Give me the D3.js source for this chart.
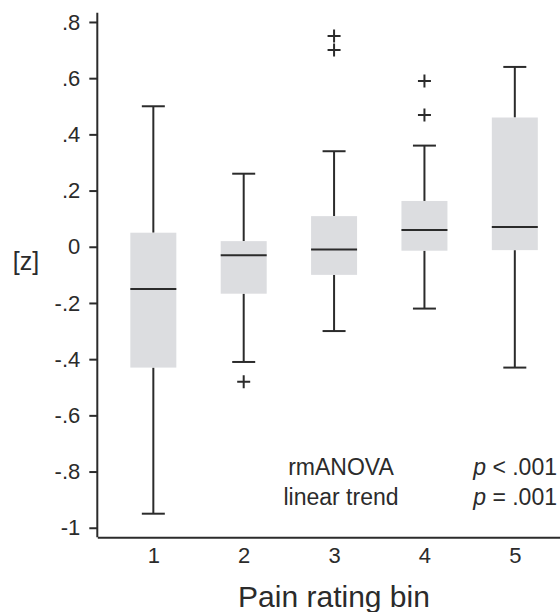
<!DOCTYPE html>
<html>
<head>
<meta charset="utf-8">
<script src="https://cdn.jsdelivr.net/npm/d3@7"></script>
<style>
    body { margin: 0; background: #fff; }
    svg { display: block; font-family: "Liberation Sans", Arial, sans-serif; }
</style>
</head>
<body>
<svg id="chart"></svg>
<script>
// values, one entry per pain rating bin
const bins = [1, 2, 3, 4, 5];
const whiskerLow = [-0.95, -0.41, -0.30, -0.22, -0.43];
const q1 = [-0.43, -0.167, -0.10, -0.014, -0.012];
const median = [-0.15, -0.03, -0.01, 0.06, 0.07];
const q3 = [0.05, 0.02, 0.109, 0.163, 0.46];
const whiskerHigh = [0.50, 0.26, 0.34, 0.36, 0.64];
const outliers = [[], [-0.48], [0.70, 0.75], [0.469, 0.59], []];
const yTicks = [0.8, 0.6, 0.4, 0.2, 0, -0.2, -0.4, -0.6, -0.8, -1];
const stats = [
    { label: "rmANOVA", op: "<", p: ".001" },
    { label: "linear trend", op: "=", p: ".001" }
];

const width = 560, height = 612;
const ink = "#2b2b2b";
const boxFill = "#dcdde0";

const svg = d3.select("#chart")
        .attr("width", width)
        .attr("height", height);

const x = d3.scaleLinear().domain([0.38, 5.5]).range([97.3, 560]);
const y = d3.scaleLinear().domain([-1.034, 0.833]).range([537.3, 12.7]);

const boxW = 46;
const capW = 23;

// tick text as in the figure: ".8", "0", "-.2", "-1"
function tickText(d) {
    if (d === 0) return "0";
    if (Number.isInteger(d)) return String(d);
    return d.toFixed(1).replace("0.", ".");
}

let data = bins.map((b, i) => ({
    bin: b,
    lo: whiskerLow[i],
    q1: q1[i],
    med: median[i],
    q3: q3[i],
    hi: whiskerHigh[i],
    out: outliers[i]
}));

// y axis
let yAxis = svg.append("g")
        .attr("transform", `translate(${x(0.38)},0)`)
        .call(d3.axisLeft(y)
                .tickValues(yTicks)
                .tickSize(8)
                .tickPadding(9)
                .tickFormat(tickText));
yAxis.select(".domain").attr("d", `M0,${y.range()[0]}V${y.range()[1]}`);
yAxis.selectAll("path, line").attr("stroke", ink).attr("stroke-width", 2);
yAxis.selectAll("text").attr("font-size", 22).attr("fill", ink).attr("font-family", null);

// x axis, no tick marks
let xAxis = svg.append("g")
        .attr("transform", `translate(0,${y.range()[0]})`)
        .call(d3.axisBottom(x)
                .tickValues(bins)
                .tickSize(0)
                .tickPadding(10)
                .tickFormat(d3.format("d")));
xAxis.select(".domain").attr("stroke", ink).attr("stroke-width", 2);
xAxis.selectAll("text").attr("font-size", 22).attr("fill", ink).attr("font-family", null);

// boxes
let groups = svg.append("g").selectAll("g.box")
        .data(data)
        .enter()
        .append("g")
                .attr("class", "box")
                .attr("transform", d => `translate(${x(d.bin)},0)`);

groups.append("line")
        .attr("y1", d => y(d.lo)).attr("y2", d => y(d.q1))
        .attr("stroke", ink).attr("stroke-width", 2);
groups.append("line")
        .attr("y1", d => y(d.q3)).attr("y2", d => y(d.hi))
        .attr("stroke", ink).attr("stroke-width", 2);
groups.append("line")
        .attr("x1", -capW / 2).attr("x2", capW / 2)
        .attr("y1", d => y(d.lo)).attr("y2", d => y(d.lo))
        .attr("stroke", ink).attr("stroke-width", 2);
groups.append("line")
        .attr("x1", -capW / 2).attr("x2", capW / 2)
        .attr("y1", d => y(d.hi)).attr("y2", d => y(d.hi))
        .attr("stroke", ink).attr("stroke-width", 2);
groups.append("rect")
        .attr("x", -boxW / 2)
        .attr("width", boxW)
        .attr("y", d => y(d.q3))
        .attr("height", d => y(d.q1) - y(d.q3))
        .attr("fill", boxFill);
groups.append("line")
        .attr("x1", -boxW / 2).attr("x2", boxW / 2)
        .attr("y1", d => y(d.med)).attr("y2", d => y(d.med))
        .attr("stroke", ink).attr("stroke-width", 2);

groups.selectAll("path.outlier")
        .data(d => d.out)
        .enter()
        .append("path")
                .attr("class", "outlier")
                .attr("d", v => `M-6.5,${y(v)}H6.5M0,${y(v) - 6.5}V${y(v) + 6.5}`)
                .attr("stroke", ink)
                .attr("stroke-width", 2)
                .attr("fill", "none");

// statistics
let statRows = svg.append("g").selectAll("g.stat")
        .data(stats)
        .enter()
        .append("g")
                .attr("class", "stat")
                .attr("transform", (d, i) => `translate(0,${475 + i * 30})`);
statRows.append("text")
        .attr("x", 341)
        .attr("text-anchor", "middle")
        .attr("font-size", 23)
        .attr("fill", ink)
        .text(d => d.label);
let pText = statRows.append("text")
        .attr("x", 557)
        .attr("text-anchor", "end")
        .attr("font-size", 23)
        .attr("fill", ink);
pText.append("tspan").attr("font-style", "italic").text("p");
pText.append("tspan").text(d => ` ${d.op} ${d.p}`);

// axis labels
svg.append("text")
        .attr("x", 26)
        .attr("y", 270)
        .attr("text-anchor", "middle")
        .attr("font-size", 25)
        .attr("fill", ink)
        .text("[z]");
svg.append("text")
        .attr("x", 334)
        .attr("y", 607)
        .attr("text-anchor", "middle")
        .attr("font-size", 30)
        .attr("fill", ink)
        .text("Pain rating bin");
</script>
</body>
</html>
